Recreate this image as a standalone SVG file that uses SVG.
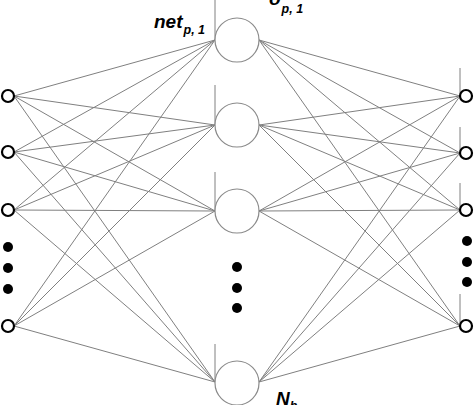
<svg xmlns="http://www.w3.org/2000/svg" width="474" height="405" viewBox="0 0 474 405">
<style>
.c{stroke:#808080;stroke-width:1;fill:none}
.h{fill:#fff;stroke:#8a8a8a;stroke-width:1.2}
.io{fill:#fff;stroke:#000;stroke-width:2.2}
.d{fill:#000}
.t{font-family:"Liberation Sans",Arial,sans-serif;font-weight:bold;font-style:italic;fill:#000}
</style>
<rect width="474" height="405" fill="#fff"/>
<g id="connectors" class="c">
<path d="M14 96L215 40M14 96L215 125M14 96L215 211M14 96L215 382"/>
<path d="M14 152L215 40M14 152L215 125M14 152L215 211M14 152L215 382"/>
<path d="M14 210L215 40M14 210L215 125M14 210L215 211M14 210L215 382"/>
<path d="M14 326L215 40M14 326L215 125M14 326L215 211M14 326L215 382"/>
<path d="M259 40L460 96M259 40L460 153M259 40L460 210M259 40L460 326"/>
<path d="M259 125L460 96M259 125L460 153M259 125L460 210M259 125L460 326"/>
<path d="M259 211L460 96M259 211L460 153M259 211L460 210M259 211L460 326"/>
<path d="M259 382L460 96M259 382L460 153M259 382L460 210M259 382L460 326"/>
<path d="M215 0V40M215 85V125M215 172V211M215 344V382"/>
<path d="M460 68V96M460 127V153M460 183V210M460 294V326"/>
</g>
<g id="in1"><circle class="io" cx="8" cy="96" r="6"/></g>
<g id="in2"><circle class="io" cx="8" cy="152" r="6"/></g>
<g id="in3"><circle class="io" cx="8" cy="210" r="6"/></g>
<g id="in-dots"><circle class="d" cx="8" cy="247" r="5"/><circle class="d" cx="8" cy="268" r="5"/><circle class="d" cx="8" cy="289" r="5"/></g>
<g id="in4"><circle class="io" cx="8" cy="326" r="6"/></g>
<g id="h1"><circle class="h" cx="237" cy="40" r="22"/></g>
<g id="h2"><circle class="h" cx="237" cy="125" r="22"/></g>
<g id="h3"><circle class="h" cx="237" cy="211" r="22"/></g>
<g id="h-dots"><circle class="d" cx="237" cy="267" r="5"/><circle class="d" cx="237" cy="288" r="5"/><circle class="d" cx="237" cy="308" r="5"/></g>
<g id="h4"><circle class="h" cx="237" cy="383" r="22"/></g>
<g id="out1"><circle class="io" cx="466" cy="96" r="6"/></g>
<g id="out2"><circle class="io" cx="466" cy="153" r="6"/></g>
<g id="out3"><circle class="io" cx="466" cy="210" r="6"/></g>
<g id="out-dots"><circle class="d" cx="467" cy="241" r="5"/><circle class="d" cx="467" cy="262" r="5"/><circle class="d" cx="467" cy="282" r="5"/></g>
<g id="out4"><circle class="io" cx="466" cy="326" r="6"/></g>
<g id="labels">
<text class="t" x="154" y="28" font-size="19">net<tspan font-size="12.5" dy="6" dx="1">p, 1</tspan></text>
<text class="t" x="269" y="5" font-size="19">o<tspan font-size="12.5" dy="8" dx="1">p, 1</tspan></text>
<text class="t" x="276" y="405" font-size="19">N<tspan font-size="12.5" dy="5" dx="0">h</tspan></text>
</g>
</svg>
